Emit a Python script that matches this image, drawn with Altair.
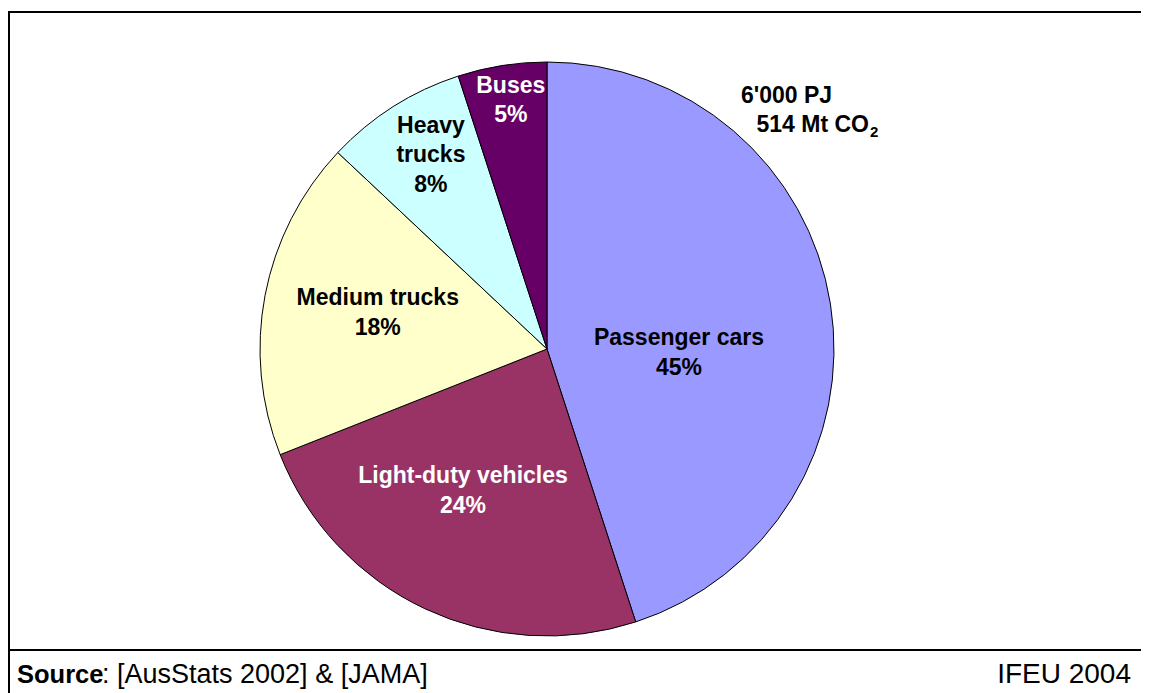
import altair as alt
import pandas as pd

# ---- data ----
categories = ["Passenger cars", "Light-duty vehicles", "Medium trucks", "Heavy trucks", "Buses"]
label_lines = ["Passenger cars", "Light-duty vehicles", "Medium trucks", "Heavy|trucks", "Buses"]
shares = [45, 24, 18, 8, 5]
colors = ["#9999FF", "#993366", "#FFFFCC", "#CCFFFF", "#660066"]
white_text = ["Light-duty vehicles", "Buses"]

# ---- layout (style constants) ----
label_radius = [132, 165, 173, 226, 251]
label_shift_deg = [10.7, 5.4, 1.2, 1.5, 0.7]
CX, CY, R = 539, 341, 287
W, H = 1133, 685
FONT = "Liberation Sans, Arial, Helvetica, sans-serif"
FS = 23
LH = 29.5

df = pd.DataFrame({
    "cat": categories,
    "label": label_lines,
    "share": shares,
    "order": list(range(len(categories))),
    "lr": label_radius,
    "ls": label_shift_deg,
})

base = alt.Chart(df)

pie = base.mark_arc(outerRadius=R, stroke="black", strokeWidth=1).encode(
    theta=alt.Theta("share:Q", stack=True),
    color=alt.Color("cat:N", scale=alt.Scale(domain=categories, range=colors), legend=None),
    order=alt.Order("order:Q"),
    x=alt.value(CX),
    y=alt.value(CY),
)

labels = base.transform_window(
    cum="sum(share)", sort=[alt.SortField("order")], frame=[None, 0]
).transform_joinaggregate(
    total="sum(share)"
).transform_calculate(
    ang="((datum.cum - datum.share/2)/datum.total)*2*PI + datum.ls*PI/180",
    txt="datum.label + '|' + datum.share + '%'",
).transform_calculate(
    nl="length(split(datum.txt, '|'))",
).transform_calculate(
    px=f"{CX} + datum.lr*sin(datum.ang)",
    py=f"{CY} - datum.lr*cos(datum.ang) - (datum.nl - 1)*{LH}/2",
).mark_text(
    font=FONT, fontWeight="bold", fontSize=FS, lineBreak="|", lineHeight=LH,
    align="center", baseline="middle",
).encode(
    x=alt.X("px:Q", scale=None, axis=None),
    y=alt.Y("py:Q", scale=None, axis=None),
    text="txt:N",
    color=alt.condition(
        alt.FieldOneOfPredicate(field="cat", oneOf=white_text),
        alt.value("white"), alt.value("black"),
    ),
)

dummy = alt.Chart(pd.DataFrame({"d": [0]}))

frame_top = dummy.mark_rule(color="black", strokeWidth=2).encode(
    x=alt.value(0), x2=alt.value(W), y=alt.value(4))
frame_left = dummy.mark_rule(color="black", strokeWidth=2).encode(
    x=alt.value(1), y=alt.value(4), y2=alt.value(H))
frame_sep = dummy.mark_rule(color="black", strokeWidth=2).encode(
    x=alt.value(0), x2=alt.value(W), y=alt.value(642))

ann1 = dummy.mark_text(font=FONT, fontWeight="bold", fontSize=FS, align="left", baseline="middle").encode(
    x=alt.value(733), y=alt.value(88), text=alt.value("6'000 PJ"))
ann2 = dummy.mark_text(font=FONT, fontWeight="bold", fontSize=FS, align="right", baseline="middle").encode(
    x=alt.value(861), y=alt.value(117), text=alt.value("514 Mt CO"))
ann2_sub = dummy.mark_text(font=FONT, fontWeight="bold", fontSize=15, align="left", baseline="middle").encode(
    x=alt.value(862), y=alt.value(124), text=alt.value("2"))

foot1 = dummy.mark_text(font=FONT, fontWeight="bold", fontSize=25.5, align="left", baseline="middle").encode(
    x=alt.value(9), y=alt.value(667), text=alt.value("Source"))
foot2 = dummy.mark_text(font=FONT, fontSize=27, align="left", baseline="middle").encode(
    x=alt.value(94), y=alt.value(667), text=alt.value(": [AusStats 2002] & [JAMA]"))
foot3 = dummy.mark_text(font=FONT, fontSize=28, align="right", baseline="middle").encode(
    x=alt.value(1123), y=alt.value(667), text=alt.value("IFEU 2004"))

chart = alt.layer(
    pie, labels, frame_top, frame_left, frame_sep, ann1, ann2, ann2_sub, foot1, foot2, foot3
).properties(
    width=1078, height=682, autosize="none",
    padding={"left": 0, "top": 0, "right": W - 1078, "bottom": H - 682},
    background="white",
).configure_view(stroke=None)

chart.save("out.html", embed_options={"renderer": "svg", "actions": False})
